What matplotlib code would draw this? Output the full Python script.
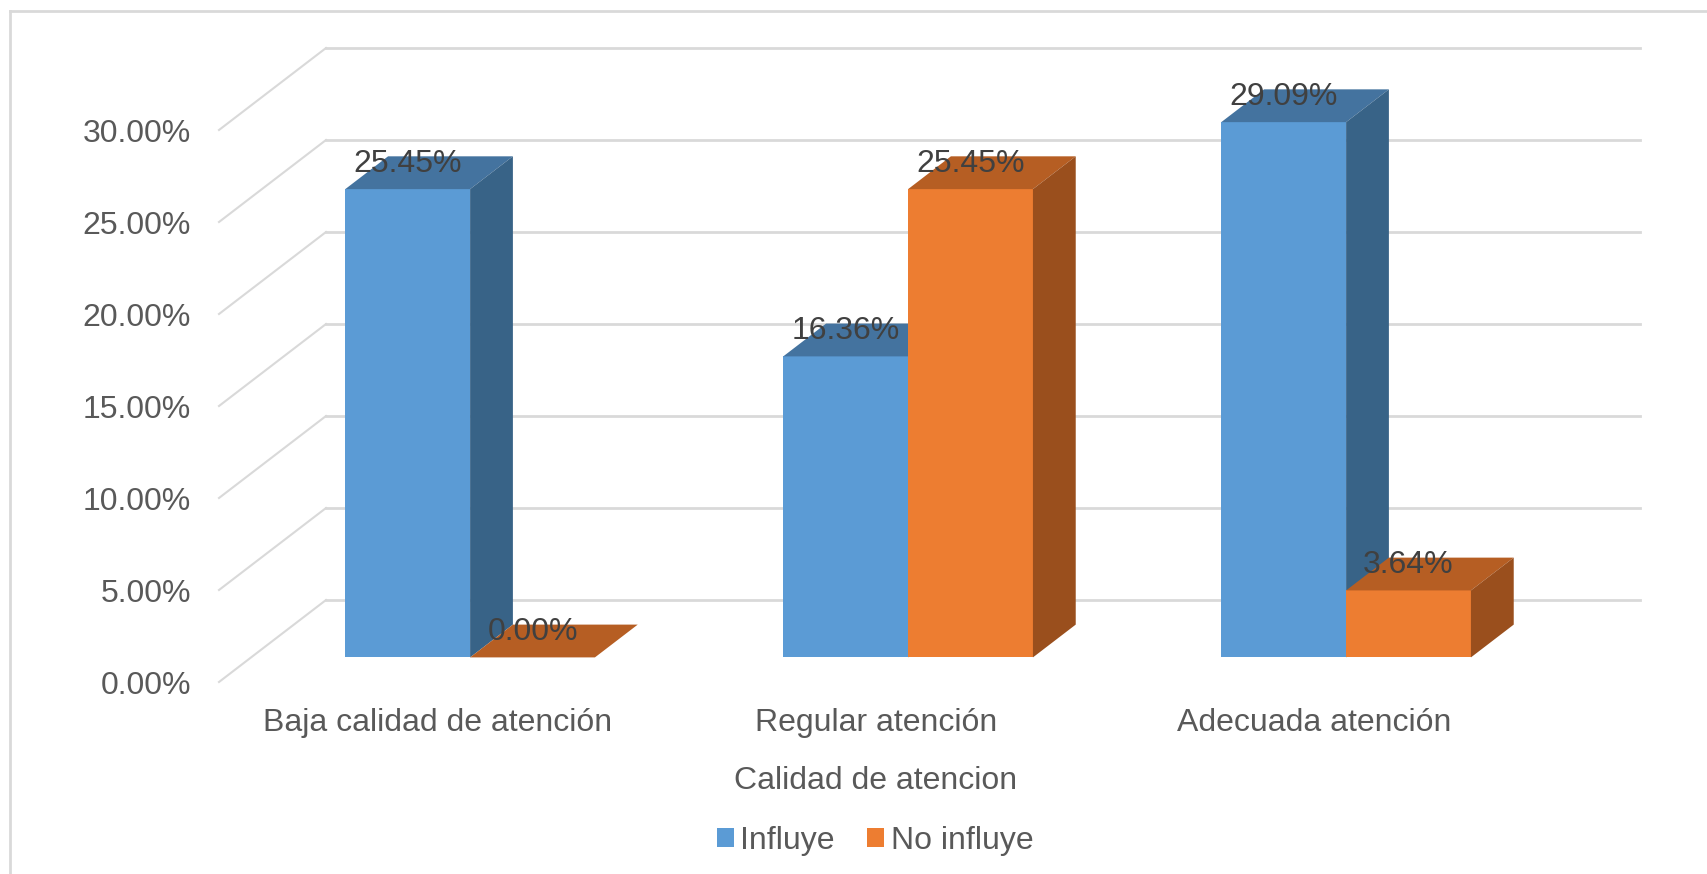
import matplotlib
matplotlib.use("Agg")
import matplotlib.pyplot as plt
from matplotlib.patches import Polygon, Rectangle
from matplotlib.lines import Line2D

plt.rcParams['font.family'] = ['Liberation Sans', 'DejaVu Sans']

# datos
categorias = ['Baja calidad de atención', 'Regular atención', 'Adecuada atención']
series = ['Influye', 'No influye']
influye = [25.45, 16.36, 29.09]
no_influye = [0.00, 25.45, 3.64]
ticks_y = [0, 5, 10, 15, 20, 25, 30]

# colores: frente, arriba, lado
colores = {
    'Influye': ('#5B9BD5', '#44739F', '#386387'),
    'No influye': ('#ED7D31', '#B65E23', '#9A4F1D'),
}

W, H, DPI = 1708, 874, 100
fig = plt.figure(figsize=(W / DPI, H / DPI), dpi=DPI)

# ejes en pixeles: piso frontal de x=219 a 1533, y=682 (0%) a 130 (30%)
ax = fig.add_axes([219 / W, (H - 682) / H, 1314 / W, 552 / H])
ax.set_xlim(-0.5, 2.5)
ax.set_ylim(0, 30)
for s in ax.spines.values():
    s.set_visible(False)

# vector de profundidad (d=1 es la pared del fondo)
DX = 107 / 438
DY = 82 / 18.4
ANCHO = 0.285
D0, D1 = 0.3, 0.7
GRIS = '#D9D9D9'


def proy(x, v, d):
    return (x + d * DX, v + d * DY)


# cuadricula: pared izquierda y pared del fondo
for v in ticks_y:
    x0, y0 = proy(-0.5, v, 0)
    x1, y1 = proy(-0.5, v, 1)
    x2, _ = proy(2.5, v, 1)
    ax.add_line(Line2D([x0, x1], [y0, y1], color=GRIS, lw=1.5, clip_on=False, zorder=1))
    ax.add_line(Line2D([x1, x2], [y1, y1], color=GRIS, lw=2, clip_on=False, zorder=1))


def barra(xi, v, nombre):
    frente, arriba, lado = colores[nombre]
    xa, xb = xi, xi + ANCHO
    cara = Polygon([proy(xa, 0, D0), proy(xb, 0, D0), proy(xb, v, D0), proy(xa, v, D0)],
                   closed=True, facecolor=frente, edgecolor='none', clip_on=False, zorder=3)
    tapa = Polygon([proy(xa, v, D0), proy(xb, v, D0), proy(xb, v, D1), proy(xa, v, D1)],
                   closed=True, facecolor=arriba, edgecolor='none', clip_on=False, zorder=3)
    costado = Polygon([proy(xb, 0, D0), proy(xb, 0, D1), proy(xb, v, D1), proy(xb, v, D0)],
                      closed=True, facecolor=lado, edgecolor='none', clip_on=False, zorder=3)
    for p in (cara, tapa, costado):
        ax.add_patch(p)
    # etiqueta centrada sobre la cara frontal, a la altura del borde trasero
    lx, _ = proy(xa + ANCHO / 2, v, D0)
    _, ly = proy(xa + ANCHO / 2, v, D1)
    ax.text(lx, ly - 0.4, f'{v:.2f}%', ha='center', va='center', fontsize=23,
            color='#404040', zorder=5, clip_on=False)


for i in range(len(categorias)):
    barra(i - ANCHO, influye[i], 'Influye')
    barra(i, no_influye[i], 'No influye')

ax.set_yticks(ticks_y)
ax.set_yticklabels([f'{t:.2f}%' for t in ticks_y])
ax.set_xticks(range(len(categorias)))
ax.set_xticklabels(categorias)
ax.tick_params(axis='y', length=0, pad=20, labelsize=23, labelcolor='#595959')
ax.tick_params(axis='x', length=0, pad=19, labelsize=23, labelcolor='#595959')
ax.set_xlabel('Calidad de atencion', fontsize=23, color='#595959', labelpad=20)

handles = [Rectangle((0, 0), 1, 1, facecolor=colores[n][0]) for n in series]
fig.legend(handles, series, loc='center', bbox_to_anchor=(875 / W, 1 - 841 / H),
           ncol=2, frameon=False, fontsize=23, labelcolor='#595959',
           handlelength=0.55, handleheight=0.55, handletextpad=0.2, columnspacing=1.0)

# borde exterior del grafico
fig.add_artist(Line2D([10 / W, 10 / W], [0, 1 - 10.5 / H], color=GRIS, lw=2))
fig.add_artist(Line2D([10 / W, 1], [1 - 10.5 / H, 1 - 10.5 / H], color=GRIS, lw=2))

fig.savefig('out.png', dpi=DPI)
